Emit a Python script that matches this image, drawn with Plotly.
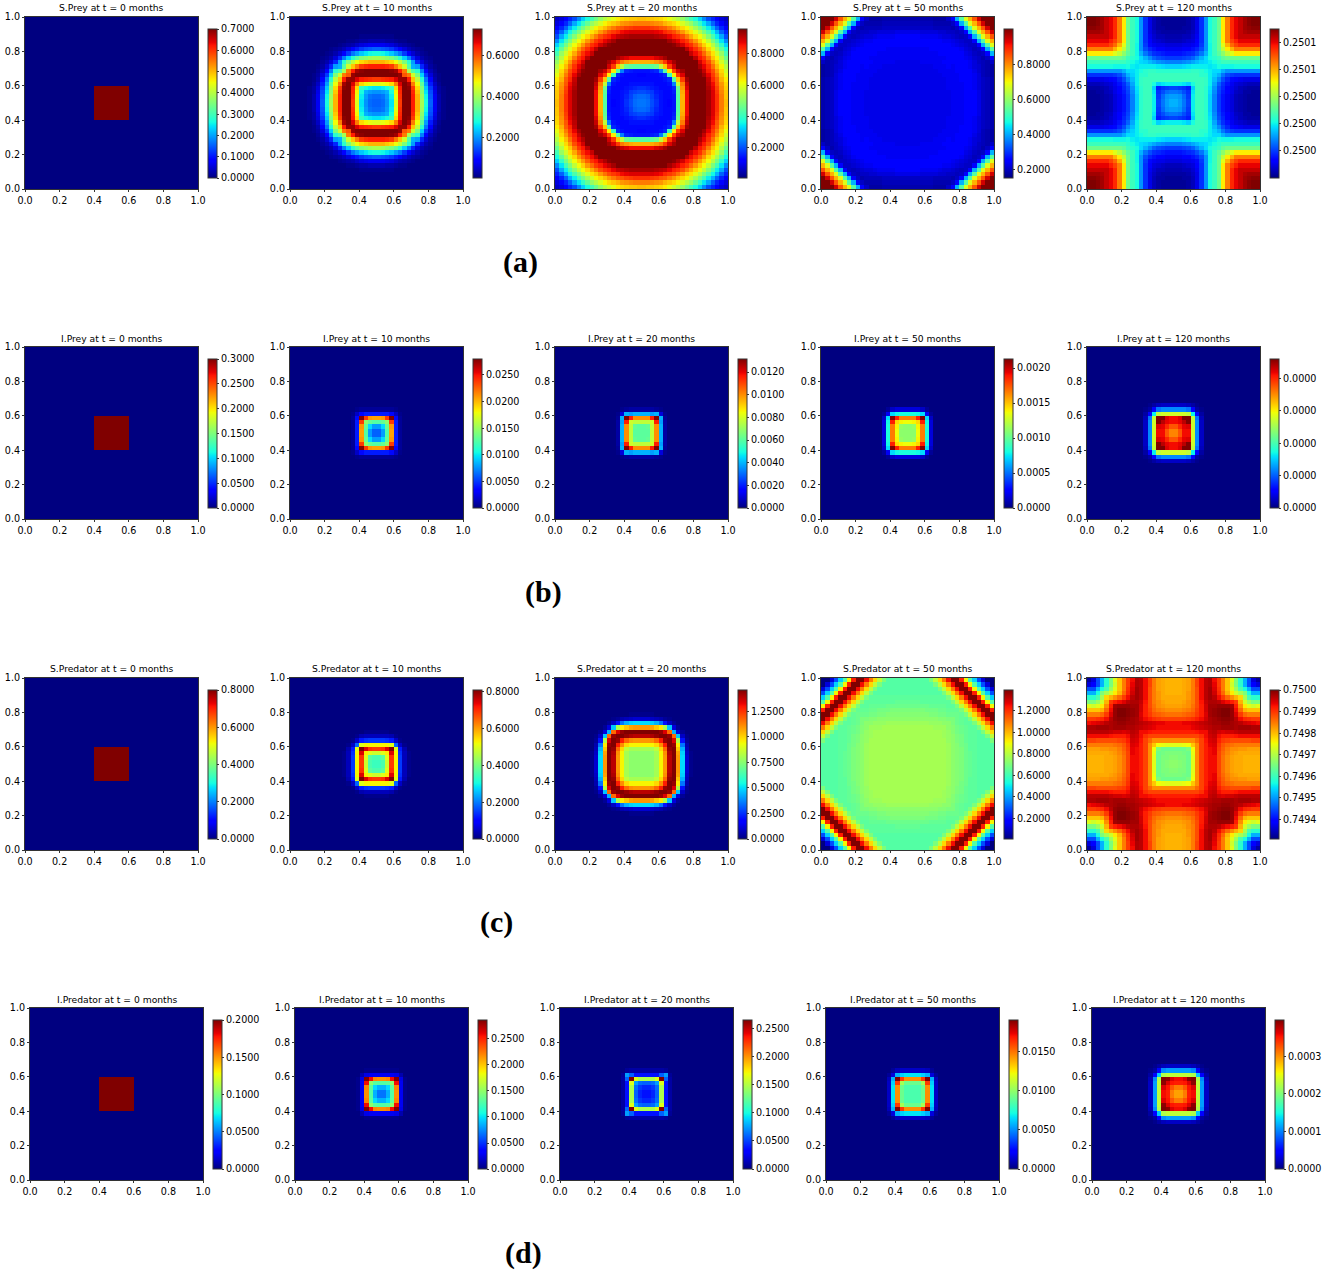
import plotly.graph_objects as go

W, H = 1325, 1273

SPECIES = ["S.Prey", "I.Prey", "S.Predator", "I.Predator"]
MONTHS = [0, 10, 20, 50, 120]
LABELS = ["(a)", "(b)", "(c)", "(d)"]

# colour level of each cell, 0-100 of the colour bar. rows go from the centre
# of the square outwards and only hold one eighth, the panels are symmetric.
# rows or cells left out are level 0
START_SQUARE = [[100], [100, 100], [100, 100, 100], [100, 100, 100, 100]]

S_PREY_10 = [
    [22],
    [23, 24],
    [27, 28, 30],
    [35, 36, 38, 42],
    [62, 63, 65, 68, 78],
    [85, 86, 87, 88, 92, 98],
    [100, 100, 100, 100, 100, 98, 82],
    [100, 100, 100, 99, 97, 88, 78, 55],
    [88, 88, 87, 85, 78, 70, 60, 45, 30],
    [72, 72, 70, 68, 64, 58, 50, 40, 28, 16],
    [55, 54, 52, 50, 46, 40, 33, 25, 16, 8, 4],
    [38, 37, 35, 32, 28, 24, 18, 12, 7, 4, 2, 1],
    [22, 21, 20, 18, 15, 12, 8, 5, 3, 2, 1],
    [10, 10, 9, 8, 6, 4, 3, 2, 1],
    [4, 4, 3, 3, 2, 1, 1],
    [1, 1, 1, 1],
]
S_PREY_20 = [
    [24],
    [23, 22],
    [20, 19, 18],
    [17, 16, 15, 14],
    [14, 14, 14, 13, 13],
    [13, 13, 13, 13, 13, 14],
    [12, 13, 13, 13, 14, 16, 42],
    [14, 14, 15, 16, 25, 45, 66, 84],
    [45, 45, 46, 48, 58, 70, 85, 93, 100],
    [72, 72, 73, 75, 78, 85, 92, 97, 100, 100],
    [90, 90, 90, 92, 94, 97, 100, 100, 100, 100, 100],
    [100, 100, 100, 100, 100, 100, 100, 100, 100, 100, 100, 94],
    [100, 100, 100, 100, 100, 100, 100, 100, 100, 100, 95, 90, 86],
    [100, 100, 100, 100, 100, 100, 100, 99, 96, 93, 89, 86, 81, 75],
    [100, 100, 100, 100, 100, 100, 97, 94, 91, 88, 85, 80, 75, 69, 64],
    [97, 97, 97, 96, 95, 94, 91, 88, 86, 83, 78, 73, 68, 64, 58, 51],
    [92, 92, 92, 91, 90, 87, 85, 83, 79, 75, 70, 67, 62, 57, 50, 44, 37],
    [86, 86, 85, 84, 82, 81, 78, 75, 71, 68, 65, 60, 55, 49, 43, 36, 30, 22],
    [78, 78, 77, 76, 75, 72, 70, 68, 65, 61, 57, 53, 47, 41, 35, 29, 22, 16, 12],
    [71, 70, 70, 69, 68, 66, 63, 60, 57, 53, 48, 43, 38, 33, 26, 20, 16, 12, 8, 6],
]
S_PREY_50 = [
    [9],
    [9, 9],
    [9, 9, 9],
    [9, 9, 9, 9],
    [9, 9, 9, 9, 9],
    [9, 9, 9, 9, 9, 9],
    [9, 9, 9, 9, 9, 9, 9],
    [9, 9, 9, 9, 9, 9, 9, 10],
    [9, 9, 9, 9, 9, 9, 10, 10, 10],
    [9, 9, 9, 10, 10, 10, 10, 10, 11, 11],
    [10, 10, 10, 10, 10, 10, 10, 10, 10, 11, 11],
    [10, 10, 10, 10, 10, 10, 10, 11, 11, 11, 11, 11],
    [10, 10, 10, 10, 10, 11, 11, 11, 11, 11, 11, 11, 10],
    [11, 11, 11, 11, 11, 11, 11, 11, 11, 11, 10, 9, 8, 7],
    [11, 11, 11, 11, 11, 11, 11, 11, 10, 10, 9, 8, 7, 6, 6],
    [11, 11, 11, 10, 10, 10, 10, 9, 8, 8, 7, 6, 5, 6, 12, 30],
    [9, 9, 9, 8, 8, 8, 8, 7, 7, 6, 6, 5, 6, 12, 30, 45, 62],
    [6, 6, 6, 6, 6, 6, 5, 5, 5, 5, 4, 6, 12, 30, 45, 62, 72, 82],
    [5, 5, 5, 5, 5, 5, 4, 4, 4, 4, 6, 12, 30, 45, 62, 72, 82, 93, 100],
    [4, 4, 4, 4, 4, 4, 3, 3, 3, 6, 12, 30, 45, 62, 72, 82, 93, 100, 100, 100],
]
S_PREY_120 = [
    [30],
    [28, 27],
    [24, 23, 20],
    [19, 18, 17, 15],
    [36, 36, 35, 33, 38],
    [42, 42, 42, 42, 42, 42],
    [42, 42, 42, 42, 42, 42, 40],
    [40, 40, 40, 40, 41, 41, 40, 38],
    [33, 33, 34, 35, 36, 36, 36, 36, 35],
    [25, 25, 26, 27, 29, 31, 33, 34, 36, 38],
    [18, 18, 19, 20, 22, 26, 30, 34, 38, 40, 42],
    [14, 14, 15, 16, 17, 20, 24, 30, 37, 42, 46, 52],
    [10, 10, 11, 12, 14, 16, 20, 27, 37, 42, 48, 58, 66],
    [8, 8, 9, 9, 10, 13, 18, 27, 37, 42, 48, 62, 72, 80],
    [5, 5, 6, 7, 8, 11, 17, 27, 38, 42, 48, 66, 78, 84, 88],
    [4, 4, 5, 5, 7, 10, 17, 27, 38, 42, 48, 66, 78, 87, 91, 94],
    [3, 3, 3, 4, 6, 9, 17, 27, 38, 42, 48, 66, 78, 87, 91, 94, 96],
    [2, 2, 3, 3, 5, 9, 17, 27, 38, 42, 48, 66, 78, 87, 91, 94, 97, 98],
    [2, 2, 2, 3, 5, 9, 17, 27, 38, 42, 48, 66, 78, 87, 91, 94, 97, 99, 100],
    [2, 2, 2, 3, 5, 9, 17, 27, 38, 42, 48, 66, 78, 87, 91, 94, 97, 99, 100, 100],
]

I_PREY_10 = [
    [22],
    [28, 34],
    [45, 47, 52],
    [74, 75, 85, 100],
    [15, 15, 15, 13, 6],
    [2, 2, 2, 2, 1],
]
I_PREY_20 = [
    [46],
    [46, 47],
    [58, 58, 60],
    [76, 76, 88, 100],
    [30, 30, 28, 30, 8],
    [3, 3, 3, 2, 1],
]
I_PREY_50 = [
    [52],
    [52, 53],
    [64, 65, 68],
    [78, 78, 88, 100],
    [38, 38, 37, 34, 10],
    [8, 8, 8, 6, 2],
]
I_PREY_120 = [
    [77],
    [82, 87],
    [90, 91, 95],
    [90, 92, 100, 100],
    [60, 60, 60, 58, 36],
    [26, 26, 26, 24, 12, 3],
    [6, 6, 6, 5, 3, 1],
]

S_PRED_10 = [
    [42],
    [44, 46],
    [60, 62, 66],
    [85, 86, 92, 100],
    [65, 65, 65, 62, 22],
    [18, 18, 17, 15, 6, 1],
    [5, 5, 5, 4, 1],
    [1, 1, 1],
]
S_PRED_20 = [
    [52],
    [52, 52],
    [52, 52, 52],
    [55, 55, 55, 58],
    [65, 65, 65, 68, 76],
    [75, 75, 76, 80, 88, 98],
    [95, 95, 96, 98, 100, 100, 98],
    [100, 100, 100, 100, 98, 92, 80, 30],
    [75, 75, 74, 70, 66, 56, 32, 8, 2],
    [34, 34, 33, 30, 24, 14, 6, 2],
    [7, 7, 6, 5, 4, 2, 1],
    [1, 1, 1],
]
S_PRED_50 = [
    [55],
    [55, 55],
    [55, 55, 55],
    [55, 55, 55, 55],
    [55, 55, 55, 55, 55],
    [55, 55, 55, 55, 55, 55],
    [55, 55, 55, 55, 55, 55, 55],
    [55, 55, 55, 55, 55, 55, 55, 55],
    [55, 55, 55, 55, 55, 55, 54, 54, 54],
    [54, 54, 54, 54, 54, 53, 53, 53, 52, 52],
    [52, 52, 52, 52, 52, 52, 52, 51, 51, 50, 50],
    [51, 51, 51, 51, 51, 50, 50, 49, 49, 48, 48, 48],
    [50, 50, 50, 50, 49, 49, 49, 48, 48, 47, 47, 47, 50],
    [48, 48, 48, 48, 48, 47, 47, 47, 47, 46, 46, 50, 58, 68],
    [47, 47, 47, 46, 46, 46, 46, 46, 46, 46, 50, 58, 68, 78, 90],
    [46, 46, 46, 46, 46, 46, 46, 46, 46, 50, 58, 68, 78, 90, 100, 100],
    [45, 45, 45, 45, 45, 45, 45, 45, 50, 58, 68, 78, 90, 100, 100, 88, 65],
    [45, 45, 45, 45, 45, 45, 45, 50, 58, 68, 78, 90, 100, 100, 88, 65, 45, 33],
    [45, 45, 45, 45, 45, 45, 50, 58, 68, 78, 90, 100, 100, 88, 65, 45, 33, 20, 8],
    [45, 45, 45, 45, 45, 50, 58, 68, 78, 90, 100, 100, 88, 65, 45, 33, 20, 8, 0, 0],
]
S_PRED_120 = [
    [52],
    [51, 50],
    [50, 50, 49],
    [48, 48, 48, 50],
    [62, 62, 63, 64, 70],
    [76, 76, 76, 76, 76, 80],
    [84, 84, 84, 84, 84, 84, 86],
    [88, 88, 88, 88, 88, 89, 90, 90],
    [90, 90, 90, 90, 91, 92, 93, 94, 95],
    [90, 90, 91, 91, 92, 93, 94, 95, 96, 97],
    [84, 84, 84, 85, 86, 88, 90, 93, 96, 97, 98],
    [79, 79, 80, 81, 82, 85, 88, 92, 97, 98, 99, 100],
    [76, 76, 77, 78, 80, 84, 88, 93, 97, 98, 99, 100, 100],
    [74, 74, 75, 76, 79, 83, 88, 93, 97, 97, 98, 98, 98, 97],
    [73, 73, 74, 76, 78, 83, 89, 94, 96, 96, 95, 92, 90, 88, 85],
    [73, 73, 73, 75, 78, 83, 90, 95, 97, 95, 90, 85, 80, 76, 72, 68],
    [72, 72, 73, 75, 78, 83, 90, 95, 97, 93, 87, 80, 72, 66, 60, 55, 50],
    [72, 72, 73, 74, 78, 83, 90, 95, 97, 92, 86, 78, 70, 62, 54, 44, 38, 30],
    [72, 72, 73, 74, 78, 84, 90, 95, 96, 91, 85, 78, 70, 60, 50, 40, 30, 20, 12],
    [72, 72, 73, 74, 78, 84, 90, 95, 96, 90, 85, 78, 70, 62, 50, 40, 30, 20, 8, 3],
]

I_PRED_10 = [
    [24],
    [30, 34],
    [45, 46, 52],
    [76, 77, 90, 100],
    [10, 10, 10, 9, 4],
    [1, 1, 1, 1],
]
I_PRED_20 = [
    [14],
    [16, 18],
    [22, 23, 28],
    [56, 56, 62, 100],
    [14, 14, 14, 22, 28],
    [3, 3, 3, 3, 2],
]
I_PRED_50 = [
    [44],
    [44, 44],
    [48, 48, 55],
    [76, 76, 85, 100],
    [35, 35, 33, 30, 8],
    [6, 6, 6, 5, 2],
]
I_PRED_120 = [
    [74],
    [78, 82],
    [88, 89, 92],
    [90, 92, 99, 100],
    [58, 58, 58, 56, 32],
    [28, 28, 28, 26, 12, 3],
    [6, 6, 6, 5, 3, 1],
]

LEVELS = [
    [START_SQUARE, S_PREY_10, S_PREY_20, S_PREY_50, S_PREY_120],
    [START_SQUARE, I_PREY_10, I_PREY_20, I_PREY_50, I_PREY_120],
    [START_SQUARE, S_PRED_10, S_PRED_20, S_PRED_50, S_PRED_120],
    [START_SQUARE, I_PRED_10, I_PRED_20, I_PRED_50, I_PRED_120],
]

# colour bar range per panel
Z_MIN = [
    [0, 0.001, 0.005, 0.152, 0.24998],
    [0, 0, 0, 0, 0],
    [0, 0, 0, 0.006, 0.74931],
    [0, 0, 0, 0, 0],
]
Z_MAX = [
    [0.7, 0.728, 0.96, 1.0, 0.25009],
    [0.3, 0.028, 0.01315, 0.00213, 0.000046],
    [0.8, 0.81, 1.457, 1.394, 0.75],
    [0.2, 0.2865, 0.266, 0.0191, 0.000397],
]
Z_TICKS = [
    [
        [0, 0.1, 0.2, 0.3, 0.4, 0.5, 0.6, 0.7],
        [0.2, 0.4, 0.6],
        [0.2, 0.4, 0.6, 0.8],
        [0.2, 0.4, 0.6, 0.8],
        [0.25, 0.25002, 0.25004, 0.25006, 0.25008],
    ],
    [
        [0, 0.05, 0.1, 0.15, 0.2, 0.25, 0.3],
        [0, 0.005, 0.01, 0.015, 0.02, 0.025],
        [0, 0.002, 0.004, 0.006, 0.008, 0.01, 0.012],
        [0, 0.0005, 0.001, 0.0015, 0.002],
        [0, 0.00001, 0.00002, 0.00003, 0.00004],
    ],
    [
        [0, 0.2, 0.4, 0.6, 0.8],
        [0, 0.2, 0.4, 0.6, 0.8],
        [0, 0.25, 0.5, 0.75, 1.0, 1.25],
        [0.2, 0.4, 0.6, 0.8, 1.0, 1.2],
        [0.7494, 0.7495, 0.7496, 0.7497, 0.7498, 0.7499, 0.75],
    ],
    [
        [0, 0.05, 0.1, 0.15, 0.2],
        [0, 0.05, 0.1, 0.15, 0.2, 0.25],
        [0, 0.05, 0.1, 0.15, 0.2, 0.25],
        [0, 0.005, 0.01, 0.015],
        [0, 0.0001, 0.0002, 0.0003],
    ],
]
AXIS_TICKS = [0, 0.2, 0.4, 0.6, 0.8, 1.0]

# matplotlib jet
JET = [
    [0, "rgb(0,0,128)"], [0.11, "rgb(0,0,255)"], [0.125, "rgb(0,0,255)"],
    [0.34, "rgb(0,219,255)"], [0.35, "rgb(0,230,247)"], [0.375, "rgb(21,255,226)"],
    [0.64, "rgb(239,255,8)"], [0.65, "rgb(247,246,0)"], [0.66, "rgb(255,236,0)"],
    [0.89, "rgb(255,19,0)"], [0.91, "rgb(232,0,0)"], [1, "rgb(128,0,0)"],
]

# panel positions in pixels
COL_LEFT = [25, 290, 555, 821, 1087]
ROW_TOP = [17, 347, 678, 1008]
ROW_SHIFT = [0, 0, 0, 5]
LABEL_X = [520, 543, 496, 523]
LABEL_Y = [262, 592, 922, 1253]
PANEL_W, PANEL_H = 173, 172
CELLS = 40
FONT = "DejaVu Sans"
EDGE = "#333333"


def expand(rows, lo, hi):
    grid = []
    for y in range(CELLS):
        line = []
        for x in range(CELLS):
            a = y - CELLS // 2 if y >= CELLS // 2 else CELLS // 2 - 1 - y
            b = x - CELLS // 2 if x >= CELLS // 2 else CELLS // 2 - 1 - x
            i, j = max(a, b), min(a, b)
            level = rows[i][j] if i < len(rows) and j < len(rows[i]) else 0
            line.append(lo + (hi - lo) * level / 100)
        grid.append(line)
    return grid


fig = go.Figure()
layout = {}
notes = []
n = 0
for r, name in enumerate(SPECIES):
    for c, month in enumerate(MONTHS):
        n += 1
        left = COL_LEFT[c] + ROW_SHIFT[r]
        top = ROW_TOP[r]
        lo, hi = Z_MIN[r][c], Z_MAX[r][c]
        fig.add_trace(go.Heatmap(
            z=expand(LEVELS[r][c], lo, hi),
            x0=0.5 / CELLS, dx=1 / CELLS,
            y0=0.5 / CELLS, dy=1 / CELLS,
            zmin=lo, zmax=hi,
            colorscale=JET,
            xaxis="x%d" % n, yaxis="y%d" % n,
            colorbar=dict(
                x=(left + 183) / W, xanchor="left", xpad=0,
                y=1 - (top + 12 + 74.5) / H, yanchor="middle", ypad=0,
                lenmode="pixels", len=149,
                thicknessmode="pixels", thickness=9,
                tickvals=Z_TICKS[r][c], tickformat=".4f",
                ticks="outside", ticklen=2, tickwidth=1, tickcolor=EDGE,
                tickfont=dict(family=FONT, size=9.6, color="black"),
                outlinewidth=1, outlinecolor=EDGE,
            ),
        ))
        axis = dict(
            range=[0, 1], tickvals=AXIS_TICKS, tickformat=".1f",
            ticks="outside", ticklen=2, tickwidth=1, tickcolor=EDGE,
            showline=True, linecolor=EDGE, linewidth=1, mirror=True,
            showgrid=False, zeroline=False,
            tickfont=dict(family=FONT, size=9.6, color="black"),
        )
        layout["xaxis%d" % n] = dict(
            axis, anchor="y%d" % n,
            domain=[left / W, (left + PANEL_W) / W],
        )
        layout["yaxis%d" % n] = dict(
            axis, anchor="x%d" % n,
            domain=[1 - (top + PANEL_H) / H, 1 - top / H],
        )
        notes.append(dict(
            text="%s at t = %d months" % (name, month),
            x=(left + PANEL_W / 2) / W, y=1 - (top - 9) / H,
            xref="paper", yref="paper", xanchor="center", yanchor="middle",
            showarrow=False, font=dict(family=FONT, size=9.2, color="black"),
        ))
    notes.append(dict(
        text="<b>%s</b>" % LABELS[r],
        x=LABEL_X[r] / W, y=1 - LABEL_Y[r] / H,
        xref="paper", yref="paper", xanchor="center", yanchor="middle",
        showarrow=False,
        font=dict(family="Liberation Serif", size=30, color="black"),
    ))

fig.update_layout(
    width=W, height=H,
    margin=dict(l=0, r=0, t=0, b=0, autoexpand=False),
    paper_bgcolor="white", plot_bgcolor="white",
    annotations=notes,
    **layout,
)
fig.write_html(
    "out.html",
    config={"displayModeBar": False},
    post_script="document.body.style.margin='0';",
)
